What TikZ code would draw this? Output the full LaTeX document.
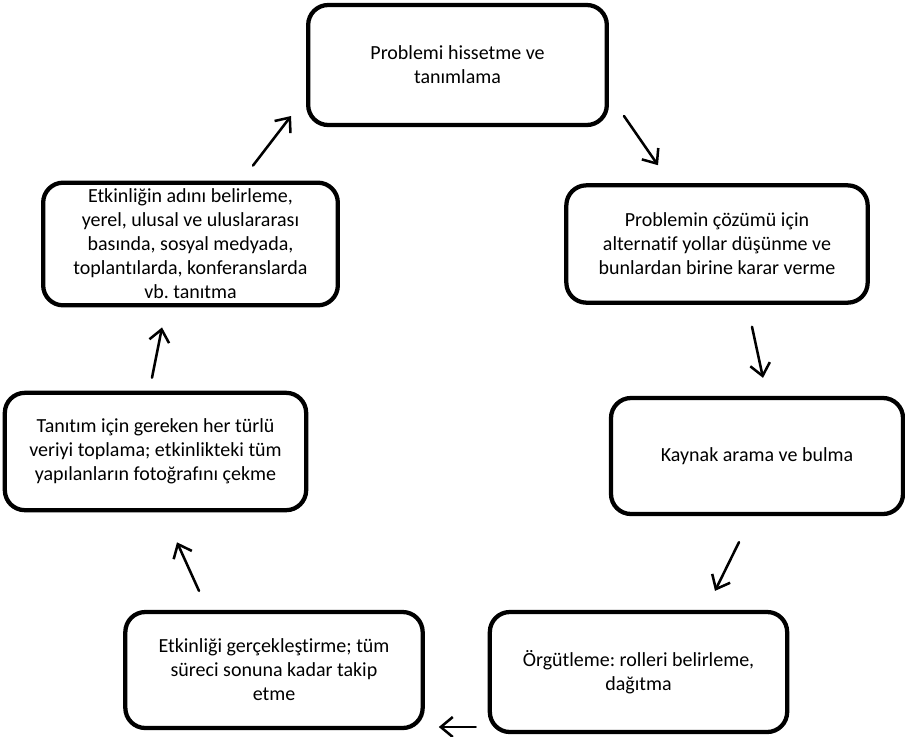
\documentclass[tikz,border=0pt]{standalone}
\usepackage{fontspec}
\setmainfont[Ligatures=NoCommon]{Carlito}
\usetikzlibrary{arrows.meta, positioning}
\frenchspacing

\begin{document}
\begin{tikzpicture}[
    x=0.75pt, y=-0.75pt,
    stage/.style={
        rectangle, draw, line width=3.2pt, rounded corners=15pt,
        align=center, inner sep=2pt,
        font=\fontsize{15}{18}\selectfont
    },
    flow/.style={
        line width=1.9pt, line cap=round,
        -{Straight Barb[length=9pt, width=15pt, line width=1.9pt]}
    }
]
\useasboundingbox (0,0) rectangle (905,736);

\node[stage, minimum width=224pt, minimum height=90pt] (hisset) at (457.5, 65)  {Problemi hissetme ve\\tanımlama};
\node[stage, minimum width=226pt, minimum height=88pt] (cozum)  at (717,  244)  {Problemin çözümü için\\alternatif yollar düşünme ve\\bunlardan birine karar verme};
\node[stage, minimum width=219pt, minimum height=87pt] (kaynak) at (757,  456)  {Kaynak arama ve bulma};
\node[stage, minimum width=223pt, minimum height=90pt] (orgut)  at (638.5,672)  {Örgütleme: rolleri belirleme,\\dağıtma};
\node[stage, minimum width=223pt, minimum height=87pt] (gercek) at (274,  670)  {Etkinliği gerçekleştirme; tüm\\süreci sonuna kadar takip\\etme};
\node[stage, minimum width=226pt, minimum height=88pt] (veri)   at (155.5,451.5){Tanıtım için gereken her türlü\\veriyi toplama; etkinlikteki tüm\\yapılanların fotoğrafını çekme};
\node[stage, minimum width=221pt, minimum height=92pt] (tanit)  at (190.5,244)  {Etkinliğin adını belirleme,\\yerel, ulusal ve uluslararası\\basında, sosyal medyada,\\toplantılarda, konferanslarda\\vb. tanıtma};

\draw[flow] ([shift={(62.5,-15)}]tanit.north) -- ([shift={(-15,51)}]hisset.west);
\draw[flow] ([shift={(15,51)}]hisset.east)    -- ([shift={(-59,-18)}]cozum.north);
\draw[flow] ([shift={(35,22)}]cozum.south)    -- ([shift={(6,-18)}]kaynak.north);
\draw[flow] ([shift={(-18,26)}]kaynak.south)  -- ([shift={(76.5,-19)}]orgut.north);
\draw[flow] ([shift={(-12,55)}]orgut.west)    -- ([shift={(14,57)}]gercek.east);
\draw[flow] ([shift={(-75,-19)}]gercek.north) -- ([shift={(21.5,30)}]veri.south);
\draw[flow] ([shift={(-3.5,-13)}]veri.north)  -- ([shift={(-28.5,20)}]tanit.south);

\end{tikzpicture}
\end{document}
